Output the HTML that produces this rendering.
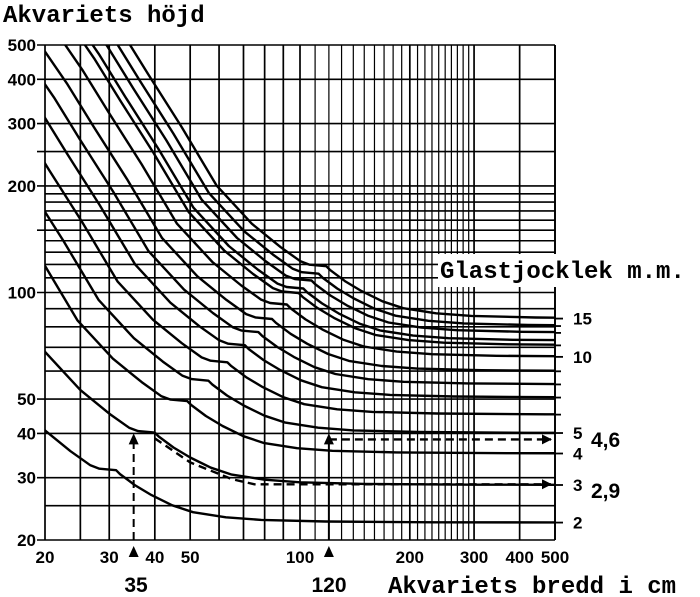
<!DOCTYPE html>
<html><head><meta charset="utf-8"><style>
html,body{margin:0;padding:0;background:#fff;width:700px;height:597px;overflow:hidden}
svg{display:block}
.t{font-family:"Liberation Sans",sans-serif;font-weight:bold;font-size:17px;fill:#000}
.m{font-family:"Liberation Mono",monospace;font-weight:bold;font-size:24px;fill:#000}
</style></head><body>
<svg id="chart" width="700" height="597" viewBox="0 0 700 597"></svg>
<script>
// ---- data ----
const xTicks = [20,30,40,50,100,200,300,400,500];
const yTicks = [20,30,40,50,100,200,300,400,500];
const xGrid = [20,25,30,40,50,60,70,80,90,100,110,120,130,140,150,160,170,180,190,200,210,220,230,240,250,260,270,280,290,300,400,500];
const yGrid = [20,25,30,40,50,60,70,80,90,100,110,120,130,140,150,160,170,180,190,200,250,300,400,500];
// glass thickness labels on right axis and their heights
const thickLabels = ["2","3","4","5","10","15"];
const thickHeights = [22.4,28.6,35.1,40.1,65.8,84.4];
const minorThickHeights = [45.2,50.5,55,59.9,70.9,76.9,80.4];
// curves: asymptotic height (cm) of each glass-thickness curve
const curveAsymptotes = [22.4,28.6,35.1,40.1,45.2,50.5,55.0,59.9,65.8,70.9,73.0,76.9,80.4,84.4];
// base curve shape (for asymptote 28.6): width, height
const baseWidths  = [5,7,9,11,13,16,20,25,30,34,36,40,41,45,50,57,65,80,100,150,300,2000];
const baseHeights = [700,390,250,185,140,100,68,53,45.5,41.5,40.6,40.2,39.2,36.5,34.2,32,30.6,29.6,29.1,28.8,28.65,28.6];
const baseAsym = 28.6;

// ---- axes ----
const L=45,R=555,T=45,B=540;
const X=v=>L+(Math.log10(v)-Math.log10(20))/(Math.log10(500)-Math.log10(20))*(R-L);
const Y=v=>B-(Math.log10(v)-Math.log10(20))/(Math.log10(500)-Math.log10(20))*(B-T);
const svg=document.getElementById('chart');
const NS='http://www.w3.org/2000/svg';
function mk(tag,attrs,parent){const e=document.createElementNS(NS,tag);for(const k in attrs)e.setAttribute(k,attrs[k]);(parent||svg).appendChild(e);return e;}

const gGrid=mk('g',{stroke:'#000','stroke-width':1.6});


xGrid.forEach(v=>{const x=X(v);const l=mk('line',{x1:x,x2:x,y1:T,y2:B,'stroke-width':(v>100&&v<300&&v!==200)?1.2:1.7},gGrid);

});
yGrid.forEach(v=>{const y=Y(v);const l=mk('line',{x1:L-(yTicks.includes(v)||v===250||v===150?8:0),x2:R,y1:y,y2:y},gGrid);

});

// clip
const cp=mk('clipPath',{id:'cp'});
mk('rect',{x:L,y:T,width:R-L,height:B-T},cp);

// curves
const gC=mk('g',{fill:'none',stroke:'#000','stroke-width':2.4,'stroke-linejoin':'round','clip-path':'url(#cp)'});


curveAsymptotes.forEach((a,i)=>{const s=a/baseAsym;
  const d=baseWidths.map((w,j)=>(j?'L':'M')+X(w*s).toFixed(1)+','+Y(baseHeights[j]*s).toFixed(1)).join('');
  const p=mk('path',{d},gC);
  
  });

// right axis ticks
const gR=mk('g',{stroke:'#000','stroke-width':1.8});


mk('line',{x1:R,x2:R,y1:T,y2:B},gR);
thickHeights.forEach((h,i)=>{const y=Y(h);mk('line',{x1:R,x2:R+8,y1:y,y2:y},gR);
  const t=mk('text',{x:R+18,y:y+6,class:'t',stroke:'none'});t.textContent=thickLabels[i];
  
  });
minorThickHeights.forEach(h=>{const y=Y(h);mk('line',{x1:R,x2:R+6,y1:y,y2:y},gR);});

// tick labels
xTicks.forEach(v=>{const t=mk('text',{x:X(v),y:563,class:'t','text-anchor':'middle'});t.textContent=v;
  
  });
yTicks.forEach(v=>{const t=mk('text',{x:36,y:Y(v)+6,class:'t','text-anchor':'end'});t.textContent=v;
  
  });

// examples
const gE=mk('g',{stroke:'#000','stroke-width':2,fill:'none'});


function arrowUp(x,y){mk('path',{d:`M${x-5},${y+11}L${x},${y}L${x+5},${y+11}Z`,fill:'#000',stroke:'none'},gE);}
function arrowRight(x,y){mk('path',{d:`M${x-10},${y-5}L${x},${y}L${x-10},${y+5}Z`,fill:'#000',stroke:'none'},gE);}
const ex1=X(35);
mk('line',{x1:ex1,x2:ex1,y1:B,y2:Y(40)+4,'stroke-dasharray':'8,5'},gE);arrowUp(ex1,Y(40));arrowUp(ex1,546);
mk('path',{d:`M${X(40)},${Y(39.5)+3}L${X(50)},${Y(34)+4}L${X(65)},${Y(30.5)+4}L${X(75)},${Y(29.3)+3}L${R-4},${Y(29.3)+3}`,'stroke-dasharray':'8,5','stroke-width':2.4},gE);
arrowRight(R-3,Y(29.3)+3);
const ex2=X(120);
mk('line',{x1:ex2,x2:ex2,y1:B,y2:Y(40)+4},gE);arrowUp(ex2,Y(40));arrowUp(ex2,546);
mk('line',{x1:ex2,x2:R-4,y1:Y(40)+6,y2:Y(40)+6,'stroke-dasharray':'8,5','stroke-width':2.4},gE);
arrowRight(R-3,Y(40)+6);
</script>
<div style="position:absolute;left:0;top:0;width:700px;height:597px;pointer-events:none">
<svg width="700" height="597" style="position:absolute;left:0;top:0">
<rect x="438" y="254" width="262" height="33" fill="#fff"/>
<text x="440" y="278" class="m">Glastjocklek m.m.</text>
<text x="3" y="22" class="m">Akvariets höjd</text>
<text x="388" y="593" class="m">Akvariets bredd i cm</text>
<text x="136" y="592" class="t" style="font-size:21px" text-anchor="middle">35</text>
<text x="329" y="592" class="t" style="font-size:21px" text-anchor="middle">120</text>
<text x="591" y="447" class="t" style="font-size:21px">4,6</text>
<text x="591" y="498" class="t" style="font-size:21px">2,9</text>
</svg></div>
</body></html>
